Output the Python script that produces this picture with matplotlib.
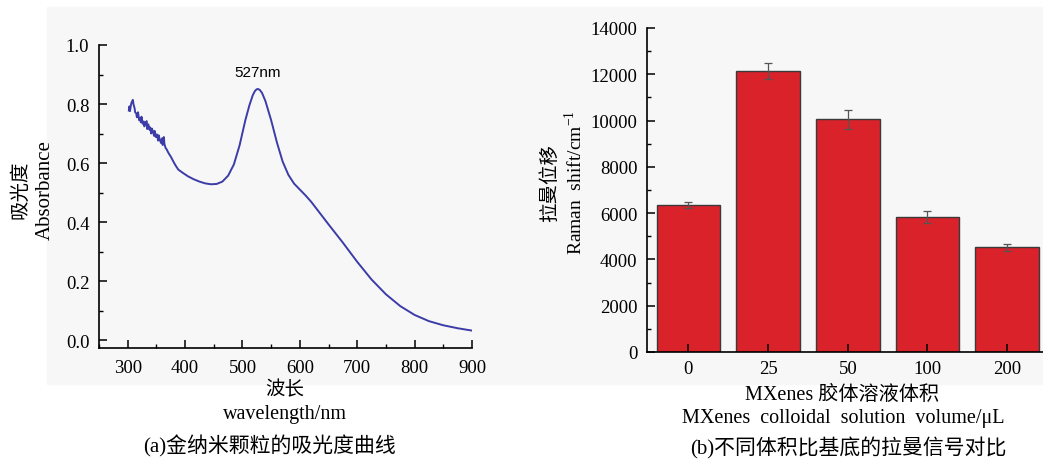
import matplotlib
matplotlib.use('Agg')
import matplotlib.pyplot as plt
from matplotlib.patches import Rectangle
from matplotlib.ticker import MultipleLocator

plt.rcParams['font.family'] = ['Liberation Serif', 'Noto Sans CJK SC']
plt.rcParams['mathtext.fontset'] = 'custom'
plt.rcParams['mathtext.rm'] = 'Liberation Serif'

# (a) absorbance curve of gold nanoparticles
wavelength = [302, 303, 304, 306, 307, 309, 310, 312, 313, 315, 316, 318, 320, 321,
              323, 324, 326, 328, 329, 331, 333, 334, 336, 338, 339, 341, 342, 344,
              346, 347, 349, 351, 353, 354, 356, 358, 360, 361, 363, 364, 366, 368,
              370, 372, 375, 378, 381, 384, 388, 395, 405, 415, 425, 435, 445, 455,
              465, 475, 485, 495, 505, 512, 518, 522, 525, 527, 530, 534, 540, 550,
              560, 570, 580, 590, 600, 610, 620, 635, 650, 675, 700, 725, 750, 775,
              800, 825, 850, 875, 900]
absorbance = [0.778, 0.792, 0.776, 0.800, 0.806, 0.814, 0.800, 0.786, 0.772, 0.768,
              0.755, 0.772, 0.745, 0.752, 0.738, 0.757, 0.733, 0.741, 0.724, 0.735,
              0.742, 0.715, 0.731, 0.713, 0.721, 0.700, 0.717, 0.707, 0.692, 0.709,
              0.688, 0.697, 0.676, 0.694, 0.679, 0.668, 0.684, 0.661, 0.688, 0.665,
              0.651, 0.646, 0.638, 0.631, 0.622, 0.611, 0.600, 0.590, 0.578, 0.568,
              0.555, 0.545, 0.537, 0.531, 0.528, 0.529, 0.537, 0.557, 0.595, 0.660,
              0.745, 0.795, 0.830, 0.845, 0.850, 0.851, 0.848, 0.838, 0.810, 0.745,
              0.670, 0.605, 0.560, 0.530, 0.510, 0.490, 0.468, 0.430, 0.392, 0.330,
              0.265, 0.205, 0.155, 0.115, 0.085, 0.064, 0.050, 0.040, 0.032]

# (b) Raman signal for different MXenes volumes
volumes = ['0', '25', '50', '100', '200']
raman = [6350, 12150, 10050, 5830, 4530]
raman_err = [130, 340, 400, 260, 145]

W, H = 1043, 460
fig = plt.figure(figsize=(W / 100, H / 100), dpi=100)
fig.patches.append(Rectangle((47 / W, 1 - 385 / H), 1 - 47 / W, 377 / H,
                             transform=fig.transFigure, color='#f7f7f7', zorder=-10))


def fx(px):
    return px / W


def fy(py):
    return 1 - py / H


def style_axes(ax):
    ax.set_facecolor('none')
    for side in ['top', 'right']:
        ax.spines[side].set_visible(False)
    for side in ['left', 'bottom']:
        ax.spines[side].set_linewidth(1.2)
    ax.tick_params(which='both', direction='in', labelsize=13.5)
    ax.tick_params(which='major', length=6, width=1.1)
    ax.tick_params(which='minor', length=3, width=1)


# ---- panel (a) ----
ax1 = fig.add_axes([fx(99), fy(349), fx(472 - 99), (349 - 46) / H])
style_axes(ax1)
ax1.plot(wavelength, absorbance, color='#3c3ca8', linewidth=1.4)
ax1.set_xlim(250, 900)
ax1.set_ylim(-0.027, 1.0)
ax1.set_xticks([300, 400, 500, 600, 700, 800, 900])
ax1.xaxis.set_minor_locator(MultipleLocator(50))
ax1.set_yticks([0.0, 0.2, 0.4, 0.6, 0.8, 1.0])
ax1.yaxis.set_minor_locator(MultipleLocator(0.1))
ax1.tick_params(axis='x', pad=8)
ax1.tick_params(axis='y', pad=7)
ax1.text(527, 0.91, '527nm', family='Liberation Sans', fontsize=11, ha='center', va='center')

fig.text(fx(20), fy(190), '吸光度', rotation=90, fontsize=14, ha='center', va='center')
fig.text(fx(45), fy(190), 'Absorbance', rotation=90, fontsize=15, ha='center', va='center')
fig.text(fx(285), fy(390), '波长', fontsize=14, ha='center', va='center')
fig.text(fx(285), fy(415), 'wavelength/nm', fontsize=14.5, ha='center', va='center')
fig.text(fx(270), fy(446), '(a)金纳米颗粒的吸光度曲线', fontsize=15, ha='center', va='center')

# ---- panel (b) ----
ax2 = fig.add_axes([fx(647), fy(353), 1 - fx(647), (353 - 29) / H])
style_axes(ax2)
x = range(len(volumes))
ax2.bar(x, raman, width=0.8, color='#d9222a', edgecolor='#3a3a3a', linewidth=1,
        yerr=raman_err, capsize=3, error_kw=dict(ecolor='#555555', elinewidth=0.9, capthick=0.9))
ax2.set_xlim(-0.52, 4.45)
ax2.set_ylim(0, 14000)
ax2.set_xticks(list(x))
ax2.set_xticklabels(volumes)
ax2.set_yticks(range(0, 14001, 2000))
ax2.yaxis.set_minor_locator(MultipleLocator(1000))
ax2.tick_params(axis='x', pad=6)
ax2.tick_params(axis='y', pad=7)

fig.text(fx(550), fy(183), '拉曼位移', rotation=90, fontsize=14, ha='center', va='center')
fig.text(fx(575), fy(183), r'Raman  shift/cm$^{-1}$', rotation=90, fontsize=14, ha='center', va='center')
fig.text(fx(842), fy(395), 'MXenes 胶体溶液体积', fontsize=14.5, ha='center', va='center')
fig.text(fx(843), fy(419), 'MXenes  colloidal  solution  volume/μL', fontsize=14.5,
         ha='center', va='center')
fig.text(fx(848), fy(448), '(b)不同体积比基底的拉曼信号对比', fontsize=15, ha='center', va='center')

fig.savefig('out.png', dpi=100, facecolor='white')
